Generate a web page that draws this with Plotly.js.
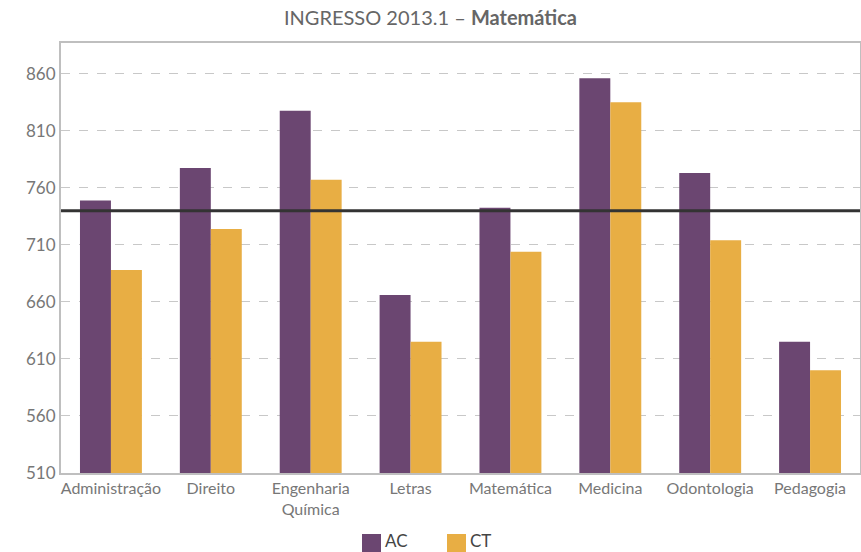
<!DOCTYPE html>
<html>
<head>
<meta charset="utf-8">
<script src="https://cdn.plot.ly/plotly-3.0.1.min.js"></script>
<style>
  html, body { margin: 0; padding: 0; background: #fff; }
  #chart { width: 861px; height: 552px; }
</style>
</head>
<body>
<div id="chart"></div>
<script>
var courses = ['Administração', 'Direito', 'Engenharia<br>Química', 'Letras',
               'Matemática', 'Medicina', 'Odontologia', 'Pedagogia'];
var acScores = [749, 777.5, 827.5, 666, 742.5, 856, 773, 625];
var ctScores = [688, 724, 767, 625, 704, 835, 714, 600];
var cutoff = 740;
var yTicks = [510, 560, 610, 660, 710, 760, 810, 860];

var purple = '#6B4671';
var gold = '#E8AE44';
var textGray = '#777777';
var font = 'Lato, "Open Sans", sans-serif';

var traceAC = {
  x: courses,
  y: acScores,
  name: 'AC',
  type: 'bar',
  marker: { color: purple },
  hoverinfo: 'x+y+name'
};

var traceCT = {
  x: courses,
  y: ctScores,
  name: 'CT',
  type: 'bar',
  marker: { color: gold },
  hoverinfo: 'x+y+name'
};

// legend is drawn by hand so the swatches can be as big as in the original
var legendY = (473 - 552) / 430;

var layout = {
  width: 861,
  height: 552,
  margin: { l: 61, r: 1, t: 43, b: 79 },
  paper_bgcolor: '#fff',
  plot_bgcolor: '#fff',
  font: { family: font, color: textGray, size: 14 },
  title: {
    text: 'INGRESSO 2013.1 – <b>Matemática</b>',
    font: { family: font, size: 20, color: '#666' },
    x: 0.5,
    xanchor: 'center',
    y: 0.967,
    yanchor: 'middle'
  },
  barmode: 'group',
  bargap: 0.38,
  bargroupgap: 0,
  showlegend: false,
  xaxis: {
    showgrid: false,
    showline: true,
    linecolor: '#bfbfbf',
    linewidth: 2,
    mirror: true,
    ticks: '',
    tickfont: { family: font, size: 16, color: textGray },
    fixedrange: true
  },
  yaxis: {
    range: [510, 887],
    tickvals: yTicks,
    ticktext: yTicks.map(String),
    showgrid: true,
    gridcolor: '#c8c8c8',
    griddash: 'dash',
    gridwidth: 1,
    zeroline: false,
    showline: true,
    linecolor: '#bfbfbf',
    linewidth: 2,
    mirror: true,
    ticks: '',
    ticklen: 0,
    tickfont: { family: font, size: 17, color: textGray },
    fixedrange: true
  },
  shapes: [
    {
      type: 'line',
      xref: 'paper', x0: 0, x1: 1,
      yref: 'y', y0: cutoff, y1: cutoff,
      line: { color: '#333333', width: 3 }
    },
    {
      type: 'rect',
      xref: 'paper', yref: 'paper',
      x0: (362 - 61) / 799, x1: (381 - 61) / 799,
      y0: (473 - 552) / 430, y1: (473 - 534) / 430,
      fillcolor: purple, line: { width: 0 }
    },
    {
      type: 'rect',
      xref: 'paper', yref: 'paper',
      x0: (447 - 61) / 799, x1: (466 - 61) / 799,
      y0: (473 - 552) / 430, y1: (473 - 534) / 430,
      fillcolor: gold, line: { width: 0 }
    }
  ],
  annotations: [
    {
      text: 'AC', xref: 'paper', yref: 'paper',
      x: (384 - 61) / 799, y: legendY,
      xanchor: 'left', yanchor: 'bottom', showarrow: false, borderpad: 0,
      font: { family: font, size: 17, color: '#444' }
    },
    {
      text: 'CT', xref: 'paper', yref: 'paper',
      x: (469 - 61) / 799, y: legendY,
      xanchor: 'left', yanchor: 'bottom', showarrow: false, borderpad: 0,
      font: { family: font, size: 17, color: '#444' }
    }
  ]
};

Plotly.newPlot('chart', [traceAC, traceCT], layout, { displayModeBar: false, responsive: false });
</script>
</body>
</html>
